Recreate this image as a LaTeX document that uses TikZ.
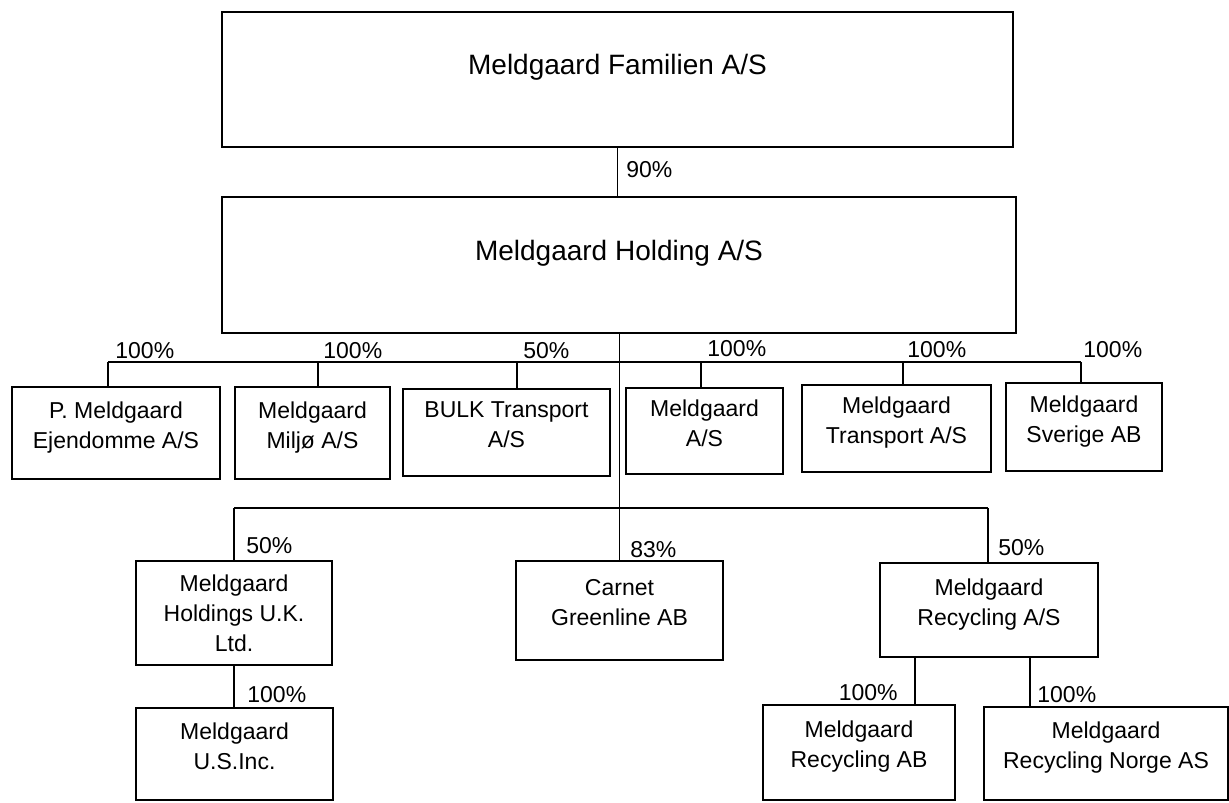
\documentclass[tikz,border=0pt]{standalone}
\usepackage{fontspec}
\setmainfont{Liberation Sans}
\newlength{\du}
\setlength{\du}{0.5pt}
\tikzset{
  entity/.style={draw, rectangle, line width=1pt, inner sep=0pt, align=center,
    font=\fontsize{11.5}{15}\selectfont},
  entitytwo/.style={entity, text depth=8pt},
  topentity/.style={entity, font=\fontsize{14}{17}\selectfont, text depth=15pt},
  owner/.style={line width=0.6pt},
  pct/.style={inner sep=0pt, anchor=base west, font=\fontsize{11.5}{14}\selectfont},
}

\begin{document}
\begin{tikzpicture}
\pgftransformxscale{1.000000}
\pgftransformyscale{-1.000000}
\useasboundingbox (0\du,0\du) rectangle (1229\du,802\du);
% owners
\node[topentity, minimum width=791\du, minimum height=135\du] (famil) at (617.5\du,79.5\du) {Meldgaard Familien A/S};
\node[topentity, minimum width=794\du, minimum height=136\du] (hold) at (619\du,265\du) {Meldgaard Holding A/S};
% first row
\node[entitytwo, minimum width=208\du, minimum height=92\du] (ejend) at (116\du,433\du) {P. Meldgaard\\Ejendomme A/S};
\node[entitytwo, minimum width=155\du, minimum height=92\du] (miljo) at (312.5\du,433\du) {Meldgaard\\Miljø A/S};
\node[entitytwo, minimum width=207\du, minimum height=87\du] (bulk) at (506.5\du,432.5\du) {BULK Transport\\A/S};
\node[entitytwo, minimum width=157\du, minimum height=86\du] (mas) at (704.5\du,431\du) {Meldgaard\\A/S};
\node[entitytwo, minimum width=189\du, minimum height=87\du] (trans) at (896.5\du,428.5\du) {Meldgaard\\Transport A/S};
\node[entitytwo, minimum width=156\du, minimum height=88\du] (sverige) at (1084\du,427\du) {Meldgaard\\Sverige AB};
% second row
\node[entity, minimum width=196\du, minimum height=104\du] (uk) at (234\du,613\du) {Meldgaard\\Holdings U.K.\\Ltd.};
\node[entitytwo, minimum width=207\du, minimum height=99\du] (carnet) at (619.5\du,610.5\du) {Carnet\\Greenline AB};
\node[entitytwo, minimum width=218\du, minimum height=94\du] (recas) at (989\du,610\du) {Meldgaard\\Recycling A/S};
% third row
\node[entitytwo, minimum width=197\du, minimum height=92\du] (usinc) at (234.5\du,754\du) {Meldgaard\\U.S.Inc.};
\node[entitytwo, minimum width=192\du, minimum height=95\du] (recab) at (859\du,752.5\du) {Meldgaard\\Recycling AB};
\node[entitytwo, minimum width=244\du, minimum height=93\du] (norge) at (1106\du,753.5\du) {Meldgaard\\Recycling Norge AS};
% bus points
\coordinate (dA) at (108\du,362\du);
\coordinate (dB) at (318\du,362\du);
\coordinate (dC) at (517\du,362\du);
\coordinate (dD) at (701\du,362\du);
\coordinate (dE) at (903\du,362\du);
\coordinate (dF) at (1081\du,362\du);
\coordinate (dG) at (234\du,508\du);
\coordinate (dI) at (988\du,508\du);
\coordinate (dJ) at (915\du,680\du);
\coordinate (dK) at (1030\du,680\du);
% ownership lines
\draw[owner] (famil.south) -- (famil.south |- hold.north);
\draw[owner] (hold.south -| carnet.north) -- (carnet.north);
\draw[owner] (dA) -- (dF);
\draw[owner] (dA) -- (dA |- ejend.north);
\draw[owner] (dB) -- (dB |- miljo.north);
\draw[owner] (dC) -- (dC |- bulk.north);
\draw[owner] (dD) -- (dD |- mas.north);
\draw[owner] (dE) -- (dE |- trans.north);
\draw[owner] (dF) -- (dF |- sverige.north);
\draw[owner] (dG) -- (dI);
\draw[owner] (dG) -- (dG |- uk.north);
\draw[owner] (dI) -- (dI |- recas.north);
\draw[owner] (uk.south) -- (uk.south |- usinc.north);
\draw[owner] (dJ |- recas.south) -- (dJ |- recab.north);
\draw[owner] (dK |- recas.south) -- (dK |- norge.north);
% shares
\node[pct] (p90) at (626\du,177\du) {90\%};
\node[pct] (pA) at (115\du,358\du) {100\%};
\node[pct] (pB) at (323\du,358\du) {100\%};
\node[pct] (pC) at (523\du,358\du) {50\%};
\node[pct] (pD) at (707\du,356\du) {100\%};
\node[pct] (pE) at (907\du,357\du) {100\%};
\node[pct] (pF) at (1083\du,357\du) {100\%};
\node[pct] (pG) at (246\du,553\du) {50\%};
\node[pct] (pH) at (630\du,557\du) {83\%};
\node[pct] (pI) at (998\du,555\du) {50\%};
\node[pct] (pUS) at (247\du,702\du) {100\%};
\node[pct, anchor=base east] (pJ) at (898\du,700\du) {100\%};
\node[pct] (pK) at (1037\du,702\du) {100\%};
\end{tikzpicture}
\end{document}
